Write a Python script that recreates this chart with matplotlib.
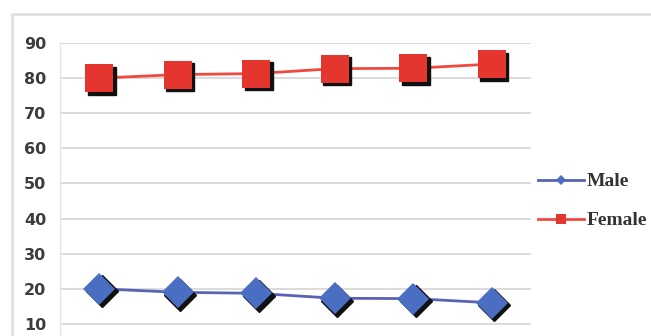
import matplotlib
matplotlib.use("Agg")
import matplotlib.pyplot as plt
import matplotlib.transforms as mtransforms
from matplotlib.patches import Rectangle

# Share of respondents by sex across six survey waves
waves = ["1", "2", "3", "4", "5", "6"]
male = [20, 19, 18.7, 17.3, 17.2, 16]
female = [80, 81, 81.3, 82.7, 82.8, 84]
y_ticks = [10, 20, 30, 40, 50, 60, 70, 80, 90]
series_names = ["Male", "Female"]

W, H, DPI = 651, 336, 100
fig = plt.figure(figsize=(W / DPI, H / DPI), dpi=DPI)
fig.patch.set_facecolor("white")

# light outer chart-area frame
fig.add_artist(Rectangle((12 / W, -0.2), 1.0, (H - 14) / H + 0.2,
                         transform=fig.transFigure, fill=False,
                         edgecolor="#dedede", linewidth=1.8))

# plot area: 0 sits just below the bottom edge of the figure
left, right = 60, 531
top_px, bot_px = 43, 359
ax = fig.add_axes([left / W, (H - bot_px) / H, (right - left) / W, (bot_px - top_px) / H])
ax.set_facecolor("none")

x = list(range(len(waves)))
ax.set_xlim(-0.5, len(waves) - 0.5)
ax.set_ylim(0, 90)
ax.set_yticks(y_ticks)
ax.set_yticklabels([str(v) for v in y_ticks])
ax.set_xticks([])
ax.yaxis.grid(True, color="#dadada", linewidth=1.4)
ax.set_axisbelow(True)
for side in ["top", "right", "bottom"]:
    ax.spines[side].set_visible(False)
ax.spines["left"].set_color("#e6e6e6")
ax.spines["left"].set_linewidth(1.0)
ax.tick_params(axis="y", length=0, pad=10, labelsize=11.5, labelcolor="#3c3c3c")
for lab in ax.get_yticklabels():
    lab.set_fontweight("bold")
    lab.set_family("DejaVu Sans")

red, red_line = "#e5352f", "#ee4a40"
blue, blue_line = "#4a6fc2", "#5a62b4"
sq_size, di_size = 19.5, 16.5

shadow = mtransforms.offset_copy(ax.transData, fig=fig, x=1.9, y=-1.9, units="points")

# drop shadows under markers
ax.plot(x, female, linestyle="none", marker="s", markersize=sq_size,
        color="#111111", transform=shadow, zorder=3)
ax.plot(x, male, linestyle="none", marker="D", markersize=di_size,
        color="#111111", transform=shadow, zorder=3)

# series lines and markers
ax.plot(x, female, color=red_line, linewidth=2.0, zorder=2)
ax.plot(x, female, linestyle="none", marker="s", markersize=sq_size,
        color=red, markeredgewidth=0, zorder=4)
ax.plot(x, male, color=blue_line, linewidth=2.0, zorder=2)
ax.plot(x, male, linestyle="none", marker="D", markersize=di_size,
        color=blue, markeredgewidth=0, zorder=4)

# legend handles
h_male, = ax.plot([], [], color=blue_line, linewidth=2.0, marker="D",
                  markersize=5.5, markerfacecolor=blue, markeredgewidth=0)
h_female, = ax.plot([], [], color=red_line, linewidth=2.0, marker="s",
                    markersize=6.5, markerfacecolor=red, markeredgewidth=0)
leg = fig.legend([h_male, h_female], series_names, loc="center left",
                 bbox_to_anchor=(520 / W, (H - 201) / H), frameon=False,
                 handlelength=2.4, handletextpad=0.15, labelspacing=1.1,
                 prop={"family": "Liberation Serif", "weight": "bold", "size": 14})
for t in leg.get_texts():
    t.set_color("#333333")

fig.savefig("out.png", dpi=DPI, facecolor="white")
